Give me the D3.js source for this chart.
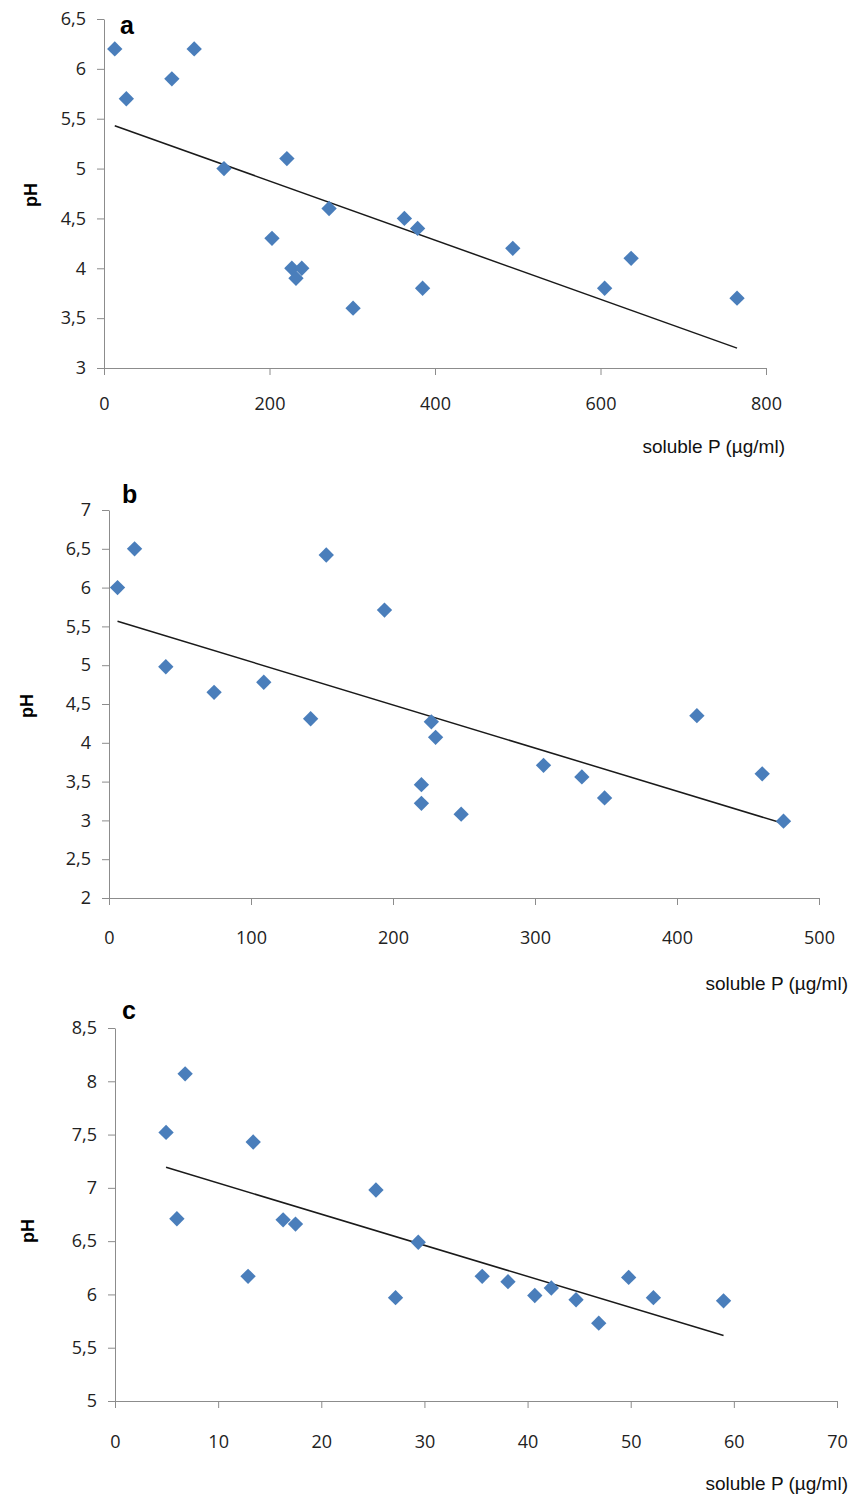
<!DOCTYPE html>
<html>
<head>
<meta charset="utf-8">
<script src="https://cdn.jsdelivr.net/npm/d3@7"></script>
<style>
  body { margin: 0; background: #fff; }
  svg { display: block; }
  .tick text { font-family: "Open Sans", sans-serif; font-size: 18px; fill: #222; }
  .domain, .tick line { stroke: #8c8c8c; }
</style>
</head>
<body>
<svg id="chart" width="862" height="1496"></svg>
<script>
// panel a
const aP = [13, 27, 82, 109, 145, 221, 203, 272, 363, 379, 385, 494, 605, 637, 765, 227, 239, 232, 301];
const aPH = [6.2, 5.7, 5.9, 6.2, 5.0, 5.1, 4.3, 4.6, 4.5, 4.4, 3.8, 4.2, 3.8, 4.1, 3.7, 4.0, 4.0, 3.9, 3.6];
const aXTicks = [0, 200, 400, 600, 800];
const aYTicks = [3, 3.5, 4, 4.5, 5, 5.5, 6, 6.5];

// panel b
const bP = [6, 18, 40, 74, 109, 142, 153, 194, 227, 230, 220, 220, 248, 306, 333, 349, 414, 460, 475];
const bPH = [6.0, 6.5, 4.98, 4.65, 4.78, 4.31, 6.42, 5.71, 4.27, 4.07, 3.46, 3.22, 3.08, 3.71, 3.56, 3.29, 4.35, 3.60, 2.99];
const bXTicks = [0, 100, 200, 300, 400, 500];
const bYTicks = [2, 2.5, 3, 3.5, 4, 4.5, 5, 5.5, 6, 6.5, 7];

// panel c
const cP = [4.95, 6.8, 6.0, 13.4, 16.3, 17.5, 25.3, 29.4, 12.9, 27.2, 35.6, 38.1, 40.7, 42.3, 44.7, 46.9, 49.8, 52.2, 59.0];
const cPH = [7.52, 8.07, 6.71, 7.43, 6.70, 6.66, 6.98, 6.49, 6.17, 5.97, 6.17, 6.12, 5.99, 6.06, 5.95, 5.73, 6.16, 5.97, 5.94];
const cXTicks = [0, 10, 20, 30, 40, 50, 60, 70];
const cYTicks = [5, 5.5, 6, 6.5, 7, 7.5, 8, 8.5];

const panels = [
  { label: "a", xs: aP, ys: aPH, xt: aXTicks, yt: aYTicks, xr: [104, 766], yr: [368, 19],
    letter: [120, 34], ph: [37, 195], title: [785, 453], pad: 22 },
  { label: "b", xs: bP, ys: bPH, xt: bXTicks, yt: bYTicks, xr: [109, 819], yr: [898, 510],
    letter: [122, 503], ph: [33, 706], title: [848, 990], pad: 26 },
  { label: "c", xs: cP, ys: cPH, xt: cXTicks, yt: cYTicks, xr: [115, 837], yr: [1401, 1028],
    letter: [122, 1019], ph: [34, 1231], title: [848, 1490], pad: 27 }
];

const svg = d3.select("#chart");
const comma = (d) => String(d).replace(".", ",");
const diamond = d3.symbol().type(d3.symbolDiamond2).size(150);

// least squares fit, like the excel trendline
function fit(xs, ys) {
  const mx = d3.mean(xs), my = d3.mean(ys);
  let num = 0, den = 0;
  xs.forEach((x, i) => { num += (x - mx) * (ys[i] - my); den += (x - mx) * (x - mx); });
  const b = num / den;
  return { b: b, a: my - b * mx };
}

panels.forEach((p) => {
  const x = d3.scaleLinear().domain(d3.extent(p.xt)).range(p.xr);
  const y = d3.scaleLinear().domain(d3.extent(p.yt)).range(p.yr);

  svg.append("g")
    .attr("transform", `translate(0,${p.yr[0]})`)
    .call(d3.axisBottom(x).tickValues(p.xt).tickSize(7).tickSizeOuter(0).tickPadding(p.pad).tickFormat(comma));

  svg.append("g")
    .attr("transform", `translate(${p.xr[0]},0)`)
    .call(d3.axisLeft(y).tickValues(p.yt).tickSize(7).tickSizeOuter(0).tickPadding(11).tickFormat(comma));

  // trend line
  const f = fit(p.xs, p.ys);
  const x0 = d3.min(p.xs), x1 = d3.max(p.xs);
  svg.append("line")
    .attr("x1", x(x0)).attr("y1", y(f.a + f.b * x0))
    .attr("x2", x(x1)).attr("y2", y(f.a + f.b * x1))
    .attr("stroke", "#1a1a1a")
    .attr("stroke-width", 1.5);

  svg.append("g")
    .selectAll("path")
    .data(p.xs.map((v, i) => [v, p.ys[i]]))
    .join("path")
    .attr("d", diamond)
    .attr("transform", (d) => `translate(${x(d[0])},${y(d[1])})`)
    .attr("fill", "#4a7ebb");

  svg.append("text")
    .attr("x", p.letter[0]).attr("y", p.letter[1])
    .style("font-family", "Liberation Sans, Arial, sans-serif")
    .style("font-weight", "bold")
    .style("font-size", "25px")
    .text(p.label);

  svg.append("text")
    .attr("transform", `translate(${p.ph[0]},${p.ph[1]}) rotate(-90)`)
    .attr("text-anchor", "middle")
    .style("font-family", "Liberation Sans, Arial, sans-serif")
    .style("font-weight", "bold")
    .style("font-size", "18px")
    .text("pH");

  svg.append("text")
    .attr("x", p.title[0]).attr("y", p.title[1])
    .attr("text-anchor", "end")
    .style("font-family", "Liberation Sans, Arial, sans-serif")
    .style("font-size", "19px")
    .style("fill", "#111")
    .text("soluble P (µg/ml)");
});
</script>
</body>
</html>
